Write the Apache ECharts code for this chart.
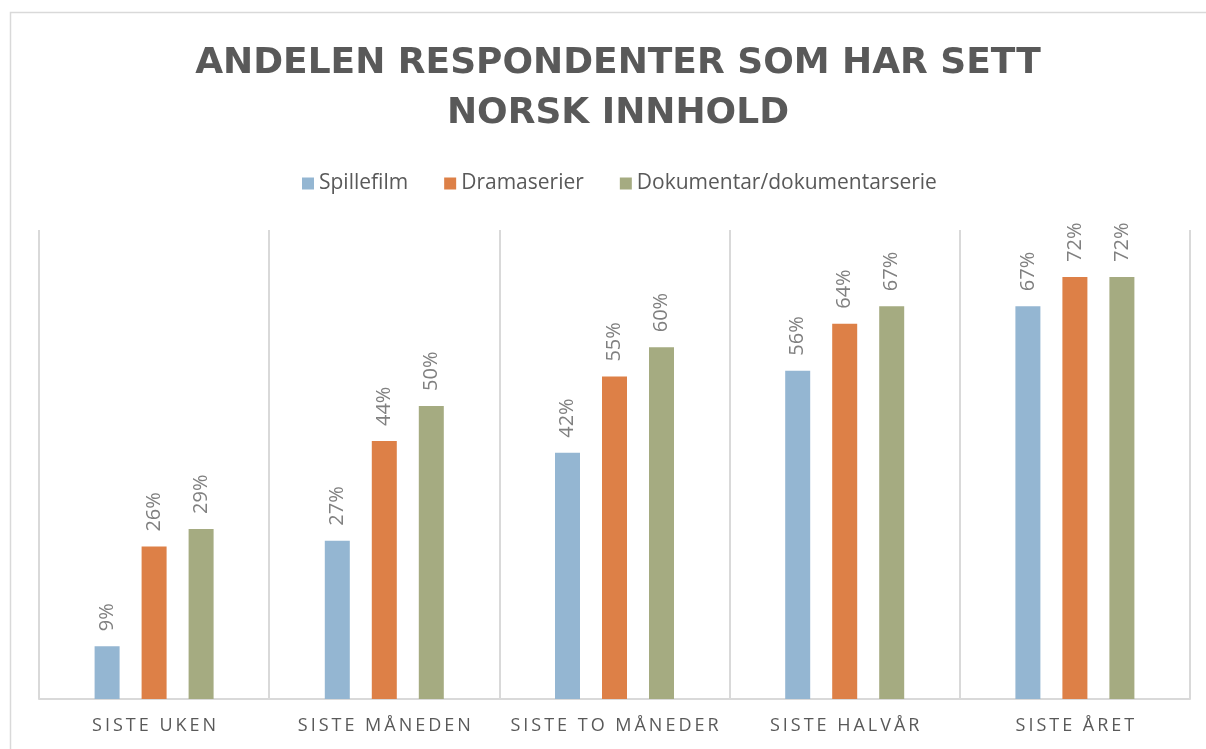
<!DOCTYPE html>
<html>
<head>
<meta charset="utf-8">
<script src="https://cdn.jsdelivr.net/npm/echarts@6/dist/echarts.min.js"></script>
<style>
  html, body { margin: 0; padding: 0; background: #fff; }
  #main { width: 1206px; height: 749px; }
</style>
</head>
<body>
<div id="main"></div>
<script>
// data
var categories = ["SISTE UKEN", "SISTE MÅNEDEN", "SISTE TO MÅNEDER", "SISTE HALVÅR", "SISTE ÅRET"];
var spillefilm = [9, 27, 42, 56, 67];
var dramaserier = [26, 44, 55, 64, 72];
var dokumentar = [29, 50, 60, 67, 72];
var seriesNames = ["Spillefilm", "Dramaserier", "Dokumentar/dokumentarserie"];
var colors = ["#94b6d2", "#dd8047", "#a5ab81"];

// spread letters a bit (the original uses letter spacing)
function spaced(str) {
  return str.split("").join("\u2009");
}

var chart = echarts.init(document.getElementById("main"));

var labelStyle = {
  show: true,
  position: "top",
  rotate: 90,
  align: "left",
  verticalAlign: "middle",
  distance: 15,
  fontFamily: "Open Sans",
  fontSize: 20,
  color: "#808080",
  formatter: "{c}%",
};

function makeSeries(name, data, color) {
  return {
    name: name,
    type: "bar",
    data: data,
    barWidth: 25,
    barGap: "88%",
    itemStyle: { color: color },
    label: labelStyle,
  };
}

var option = {
  animation: false,
  color: colors,
  title: {
    text: "ANDELEN RESPONDENTER SOM HAR SETT\nNORSK INNHOLD",
    left: 613,
    textAlign: "center",
    top: 34,
    textStyle: {
      fontFamily: "DejaVu Sans",
      fontWeight: "bold",
      fontSize: 36,
      lineHeight: 50,
      color: "#595959",
    },
  },
  legend: {
    data: seriesNames,
    top: 168,
    left: 297,
    itemWidth: 12,
    itemHeight: 12,
    itemGap: 36,
    icon: "rect",
    textStyle: {
      fontFamily: "Open Sans",
      fontSize: 21,
      color: "#595959",
    },
  },
  grid: {
    left: 39,
    right: 16,
    top: 230,
    bottom: 50,
  },
  xAxis: {
    type: "category",
    data: categories,
    axisTick: { show: false, interval: 0 },
    axisLine: { lineStyle: { color: "#d9d9d9", width: 2 } },
    splitLine: { show: true, interval: 0, lineStyle: { color: "#d9d9d9", width: 2 } },
    axisLabel: {
      interval: 0,
      margin: 18,
      fontFamily: "Open Sans",
      fontSize: 18,
      color: "#595959",
      formatter: function (value) {
        return spaced(value);
      },
    },
  },
  yAxis: {
    type: "value",
    min: 0,
    max: 80,
    show: false,
    splitLine: { show: false },
  },
  graphic: [
    {
      type: "rect",
      shape: { x: 10.5, y: 12.5, width: 1300, height: 800 },
      style: { fill: "none", stroke: "#d9d9d9", lineWidth: 1.5 },
      silent: true,
    },
  ],
  series: [
    makeSeries(seriesNames[0], spillefilm, colors[0]),
    makeSeries(seriesNames[1], dramaserier, colors[1]),
    makeSeries(seriesNames[2], dokumentar, colors[2]),
  ],
};

chart.setOption(option);
</script>
</body>
</html>
